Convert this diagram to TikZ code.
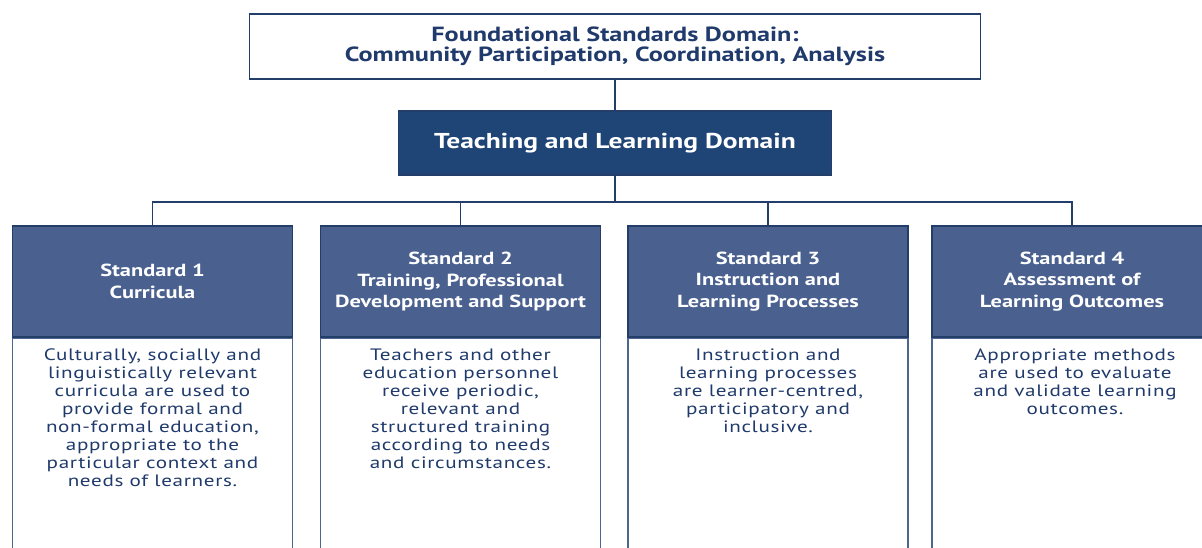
\documentclass[tikz,border=0pt]{standalone}
\usepackage{fontspec}
\setmainfont[FakeStretch=1.28]{PT Sans}
\usepackage{tikz}

\begin{document}
\begin{tikzpicture}[x=1pt,y=-1pt,
  domainbox/.style={draw=cline,line width=1.4pt,fill=white,minimum width=731pt,minimum height=65pt,align=center,text=ctext,font=\fontsize{20.5}{20}\selectfont\bfseries},
  teachbox/.style={draw=cline,line width=1.4pt,fill=cnavy,minimum width=433pt,minimum height=64pt,text=white,font=\fontsize{21.5}{22}\selectfont\bfseries},
  headbox/.style={draw=cline,line width=1.4pt,fill=chead,minimum width=280pt,minimum height=111pt,align=center,text=white,font=\fontsize{17.5}{21.5}\selectfont\bfseries},
  bodybox/.style={draw=cside,line width=1.4pt,fill=white,minimum width=280pt,minimum height=230pt},
  bodytext/.style={align=center,text=ctext,inner sep=0pt,font=\fontsize{16.5}{18}\selectfont\addfontfeatures{LetterSpace=4}},
  conn/.style={draw=cline,line width=1.4pt}]
\definecolor{cnavy}{rgb}{0.122,0.271,0.467}
\definecolor{chead}{rgb}{0.29,0.38,0.565}
\definecolor{cline}{rgb}{0.141,0.243,0.416}
\definecolor{cside}{rgb}{0.30,0.40,0.56}
\definecolor{ctext}{rgb}{0.122,0.227,0.420}
%
\useasboundingbox (0,0) rectangle (1202,547);
\clip (0,0) rectangle (1202,547);
%
\node[domainbox] (found) at (615,46.5) {Foundational Standards Domain:\\Community Participation, Coordination, Analysis};
\node[teachbox] (teach) at (615,143) {Teaching and Learning Domain};
%
\node[headbox] (h1) at (152.5,281.5) {Standard 1\\Curricula};
\node[headbox] (h2) at (460.5,281.5) {Standard 2\\Training, Professional\\Development and Support};
\node[headbox] (h3) at (768,281.5) {Standard 3\\Instruction and\\Learning Processes};
\node[headbox] (h4) at (1072,281.5) {Standard 4\\Assessment of\\Learning Outcomes};
%
\node[bodybox,anchor=north] (b1) at (h1.south) {};
\node[bodybox,anchor=north] (b2) at (h2.south) {};
\node[bodybox,anchor=north] (b3) at (h3.south) {};
\node[bodybox,anchor=north] (b4) at (h4.south) {};
%
\node[bodytext,anchor=north] (t1) at (152.5,349) {Culturally, socially and\\linguistically relevant\\curricula are used to\\provide formal and\\non-formal education,\\appropriate to the\\particular context and\\needs of learners.};
\node[bodytext,anchor=north] (t2) at (460.5,349) {Teachers and other\\education personnel\\receive periodic,\\relevant and\\structured training\\according to needs\\and circumstances.};
\node[bodytext,anchor=north] (t3) at (768,349) {Instruction and\\learning processes\\are learner-centred,\\participatory and\\inclusive.};
\node[bodytext,anchor=north] (t4) at (1075,349) {Appropriate methods\\are used to evaluate\\and validate learning\\outcomes.};
%
\coordinate (bus) at (615,202);
\draw[conn] (found.south) -- (teach.north);
\draw[conn] (teach.south) -- (bus);
\draw[conn] (h1.north) |- (bus) -| (h4.north);
\draw[conn] (h2.north) -- (h2.north |- bus);
\draw[conn] (h3.north) -- (h3.north |- bus);
%
\end{tikzpicture}
\end{document}
